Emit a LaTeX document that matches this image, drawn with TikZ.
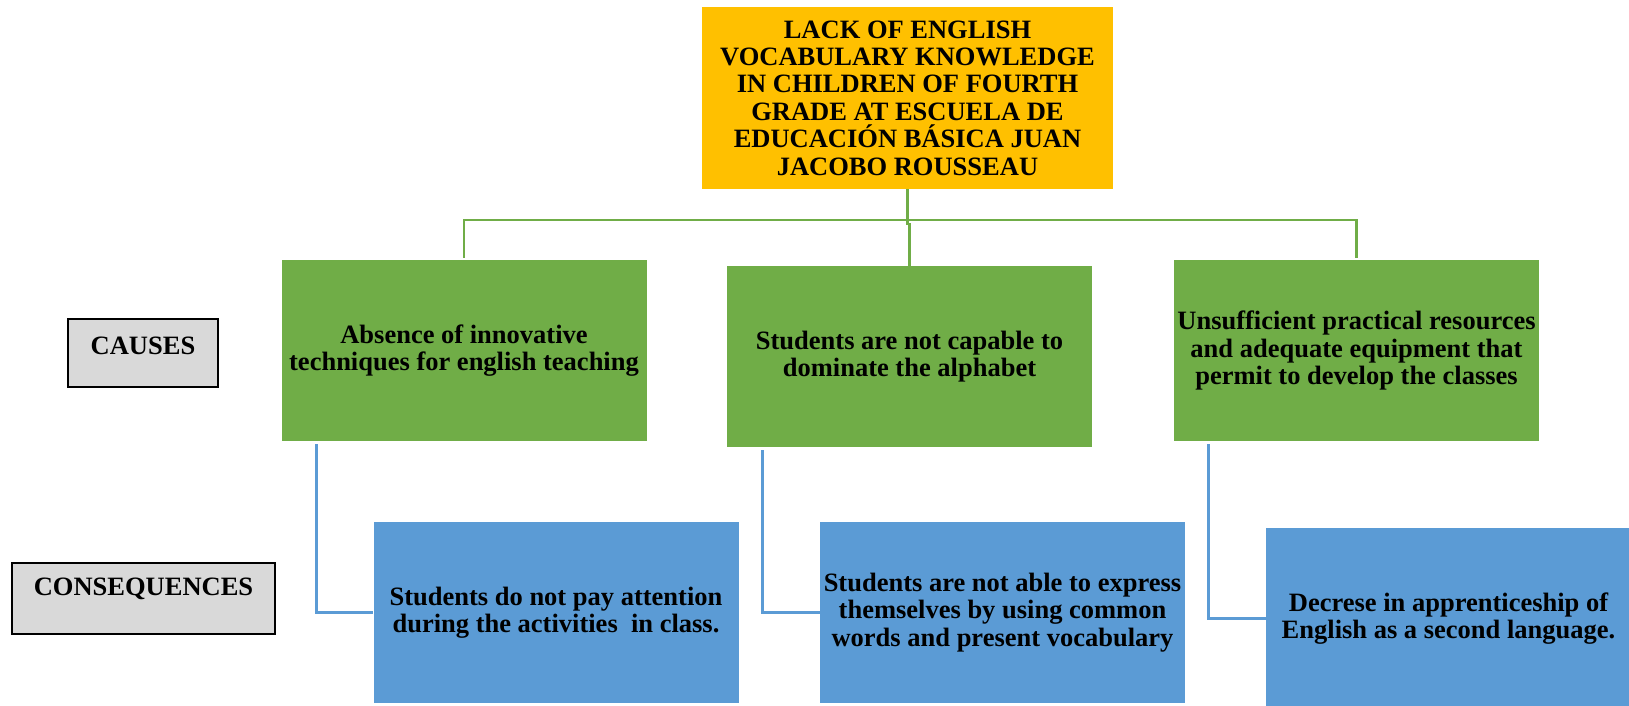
\documentclass[tikz,border=0pt]{standalone}
\usepackage{fontspec}
\setmainfont{Liberation Serif}
\definecolor{gold}{HTML}{FFC000}
\definecolor{leaf}{HTML}{70AD47}
\definecolor{sky}{HTML}{5B9BD5}
\definecolor{lgray}{HTML}{D9D9D9}
\begin{document}
\begin{tikzpicture}[x=1pt,y=-1pt,
  txt/.style={font=\fontsize{26.5}{27.4}\selectfont\bfseries, align=center, inner sep=0pt, text=black},
  box/.style={txt, rectangle, minimum width=365pt, minimum height=181pt},
  topbox/.style={box, fill=gold, minimum width=411pt, minimum height=182pt},
  causebox/.style={box, fill=leaf},
  consbox/.style={box, fill=sky},
  labelbox/.style={rectangle, fill=lgray, draw=black, line width=2pt, inner sep=0pt},
  gline/.style={draw=leaf, line width=2.7pt},
  bline/.style={draw=sky, line width=2.7pt}]
\useasboundingbox (0,0) rectangle (1629,706);

\node[topbox] (top) at (907.5,98) {LACK OF ENGLISH\\VOCABULARY KNOWLEDGE\\IN CHILDREN OF FOURTH\\GRADE AT ESCUELA DE\\EDUCACIÓN BÁSICA JUAN\\JACOBO ROUSSEAU};

\node[causebox] (gl) at (464,350.5) {Absence of innovative\\techniques for english teaching};
\node[causebox] (gm) at (909.5,356.5) {Students are not capable to\\dominate the alphabet};
\node[causebox] (gr) at (1356.5,350.5) {Unsufficient practical resources\\and adequate equipment that\\permit to develop the classes};

\node[consbox] (bl) at (556,612.5) {Students do not pay attention\\during the activities \ in class.};
\node[consbox] (bm) at (1002.5,612.5) {Students are not able to express\\themselves by using common\\words and present vocabulary};
\node[consbox] (br) at (1448.5,618.5) {Decrese in apprenticeship of\\English as a second language.};

\node[labelbox, minimum width=150pt, minimum height=68pt] (causes) at (143,353) {};
\node[txt] (causestxt) at (143,346) {CAUSES};
\node[labelbox, minimum width=263pt, minimum height=71pt] (cons) at (143.5,598.5) {};
\node[txt] (constxt) at (143.5,589) {CONSEQUENCES};

% green connectors
\coordinate (j) at (907.5,220);
\draw[gline] (top.south) -- (j);
\draw[gline] ([yshift=2pt]gl.north) |- (j) -| ([yshift=2pt]gr.north);
\draw[gline] (j) -- ++(0,4) -| (gm.north);

% blue connectors
\draw[bline] ([xshift=35pt,yshift=-3pt]gl.south west) |- (bl.west);
\draw[bline] ([xshift=36pt,yshift=-3pt]gm.south west) |- (bm.west);
\draw[bline] ([xshift=35pt,yshift=-3pt]gr.south west) |- (br.west);
\end{tikzpicture}
\end{document}
